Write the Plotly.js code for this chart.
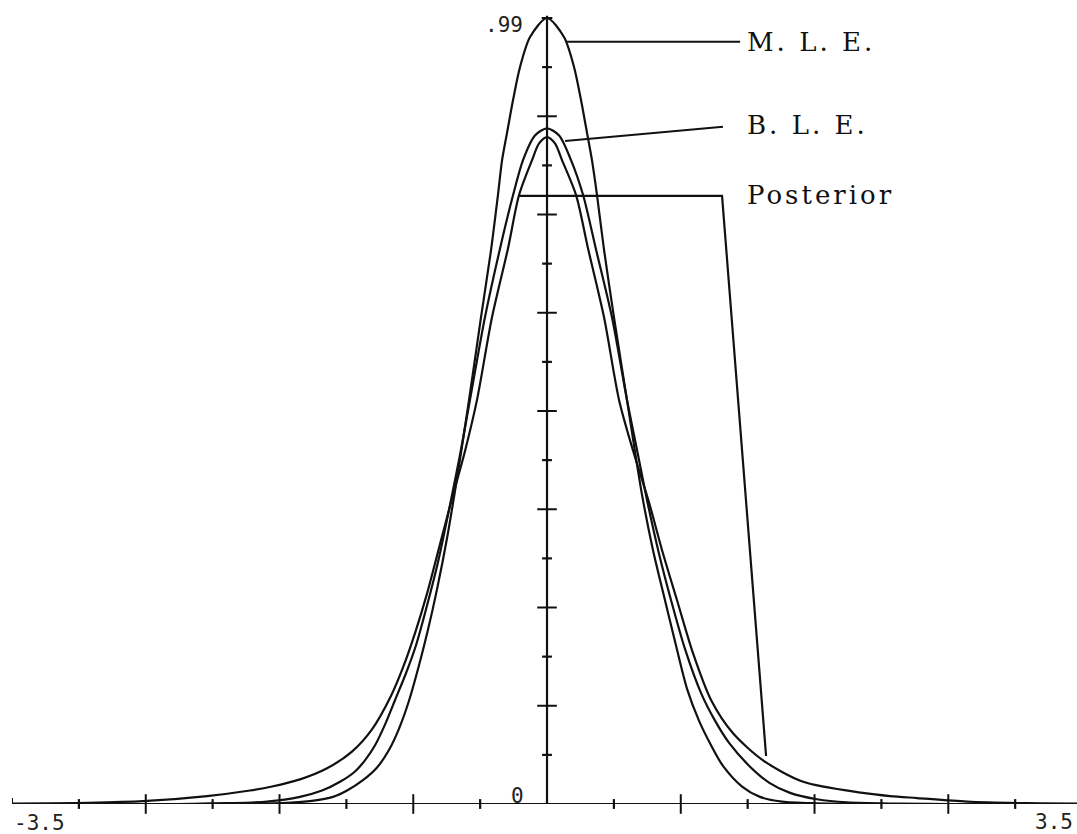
<!DOCTYPE html>
<html>
<head>
<meta charset="utf-8">
<script src="https://cdn.plot.ly/plotly-3.0.1.min.js"></script>
<style>
html,body{margin:0;padding:0;background:#ffffff;}
#chart{width:1077px;height:834px;}
</style>
</head>
<body>
<div id="chart"></div>
<script>
// ---- data ----
// M.L.E. curve
const mleX = [-3.5, -2.290, -1.963, -1.701, -1.537, -1.400, -1.308, -1.204, -1.112, -1.034, -0.968, -0.903, -0.837, -0.778, -0.720, -0.654, -0.589, -0.510, -0.432, -0.366, -0.321, -0.294, -0.262, -0.222, -0.177, -0.111, 0,
              0.111, 0.177, 0.222, 0.262, 0.294, 0.327, 0.373, 0.438, 0.523, 0.621, 0.693, 0.765, 0.837, 0.916, 0.994, 1.073, 1.151, 1.276, 1.393, 1.537, 1.766, 2.093, 3.467];
const mleY = [0, 0, 0.0003, 0.0015, 0.004, 0.009, 0.017, 0.030, 0.046, 0.068, 0.095, 0.130, 0.175, 0.220, 0.270, 0.335, 0.410, 0.509, 0.613, 0.698, 0.767, 0.811, 0.845, 0.887, 0.928, 0.966, 0.990,
              0.966, 0.928, 0.887, 0.845, 0.811, 0.767, 0.698, 0.613, 0.509, 0.390, 0.320, 0.262, 0.205, 0.145, 0.105, 0.074, 0.048, 0.022, 0.009, 0.003, 0.0008, 0, 0];
// B.L.E. curve
const bleX = [-3.5, -2.421, -2.093, -1.832, -1.616, -1.472, -1.354, -1.256, -1.191, -1.125, -1.060, -0.994, -0.922, -0.857, -0.785, -0.707, -0.628, -0.569, -0.504, -0.406, -0.307, -0.222, -0.157, -0.079, 0,
              0.079, 0.157, 0.236, 0.321, 0.425, 0.523, 0.595, 0.654, 0.733, 0.811, 0.903, 1.007, 1.099, 1.191, 1.328, 1.452, 1.590, 1.766, 1.963, 2.290, 2.617, 3.467];
const bleY = [0, 0, 0.001, 0.003, 0.009, 0.017, 0.028, 0.041, 0.055, 0.074, 0.100, 0.131, 0.165, 0.200, 0.250, 0.310, 0.383, 0.440, 0.509, 0.613, 0.700, 0.767, 0.811, 0.842, 0.851,
              0.842, 0.811, 0.767, 0.698, 0.613, 0.509, 0.440, 0.383, 0.315, 0.257, 0.195, 0.140, 0.105, 0.077, 0.047, 0.027, 0.014, 0.006, 0.002, 0.0005, 0, 0];
// Posterior curve
const postX = [-3.5, -3.009, -2.643, -2.224, -1.943, -1.799, -1.616, -1.439, -1.276, -1.145, -1.021, -0.942, -0.864, -0.785, -0.707, -0.628, -0.536, -0.458, -0.360, -0.255, -0.183, -0.098, -0.052, 0,
               0.052, 0.098, 0.190, 0.268, 0.373, 0.471, 0.563, 0.667, 0.752, 0.850, 0.955, 1.073, 1.217, 1.413, 1.675, 2.067, 2.244, 2.421, 2.748, 3.140, 3.467];
const postY = [0.0006, 0.0015, 0.0035, 0.010, 0.017, 0.022, 0.031, 0.045, 0.066, 0.094, 0.136, 0.172, 0.215, 0.265, 0.322, 0.380, 0.445, 0.509, 0.613, 0.700, 0.767, 0.811, 0.832, 0.840,
               0.832, 0.811, 0.767, 0.700, 0.613, 0.509, 0.445, 0.380, 0.320, 0.257, 0.190, 0.131, 0.089, 0.055, 0.028, 0.014, 0.010, 0.0075, 0.003, 0.001, 0.0005];

// axis ticks
const xMajorTicks = [-2.625, -1.75, -0.875, 0.875, 1.75, 2.625];
const xMinorTicks = [-3.0625, -2.1875, -1.3125, -0.4375, 0.4375, 1.3125, 2.1875, 3.0625];
const yMajorTicks = [0.12375, 0.2475, 0.37125, 0.495, 0.61875, 0.7425, 0.86625];
const yMinorTicks = [0.061875, 0.185625, 0.309375, 0.433125, 0.556875, 0.680625, 0.804375, 0.928125];
const xMin = -3.5, xMax = 3.5, yTop = 0.99;
const tickLabels = {xMin: "-3.5", xMax: "3.5", yTop: ".99", yZero: "0"};
const curveLabels = ["M. L. E.", "B. L. E.", "Posterior"];

const ink = '#111111';
const curveLine = {color: ink, width: 2.2, shape: 'spline', smoothing: 0.8};

const traces = [
  {x: mleX, y: mleY, mode: 'lines', line: curveLine, hoverinfo: 'skip', showlegend: false},
  {x: bleX, y: bleY, mode: 'lines', line: curveLine, hoverinfo: 'skip', showlegend: false},
  {x: postX, y: postY, mode: 'lines', line: curveLine, hoverinfo: 'skip', showlegend: false},
  {x: xMajorTicks, y: xMajorTicks.map(() => 0), mode: 'markers', cliponaxis: false, hoverinfo: 'skip', showlegend: false,
   marker: {symbol: 'line-ns', size: 14, color: ink, line: {color: ink, width: 2}}},
  {x: xMinorTicks, y: xMinorTicks.map(() => 0), mode: 'markers', cliponaxis: false, hoverinfo: 'skip', showlegend: false,
   marker: {symbol: 'line-ns', size: 7, color: ink, line: {color: ink, width: 2.2}}},
  {x: yMajorTicks.map(() => 0), y: yMajorTicks, mode: 'markers', cliponaxis: false, hoverinfo: 'skip', showlegend: false,
   marker: {symbol: 'line-ew', size: 14, color: ink, line: {color: ink, width: 2}}},
  {x: yMinorTicks.map(() => 0), y: yMinorTicks, mode: 'markers', cliponaxis: false, hoverinfo: 'skip', showlegend: false,
   marker: {symbol: 'line-ew', size: 7, color: ink, line: {color: ink, width: 2.2}}}
];

const L = (x0, y0, x1, y1, w) => ({type: 'line', xref: 'x', yref: 'y', x0, y0, x1, y1, line: {color: ink, width: w || 2}});

const shapes = [
  L(xMin, 0, 3.467, 0, 2),          // x axis
  L(0, 0, 0, yTop + 0.003, 2.2),     // y axis
  L(-0.035, yTop, 0.035, yTop, 2),   // cap at top
  L(xMin, -0.0113, xMin, 0.0076, 2), // left end bar
  // pointer lines
  L(0.124, 0.960, 1.263, 0.960, 2),
  L(0.118, 0.835, 1.151, 0.853, 2),
  {type: 'path', xref: 'x', yref: 'y', path: 'M -0.183,0.766 L 1.145,0.766 L 1.433,0.0605', line: {color: ink, width: 2.2}}
];

const numFont = {family: 'DejaVu Sans Mono', size: 21, color: '#222222'};
const lblFont = {family: 'DejaVu Serif', size: 26, color: ink};

const annotations = [
  {text: tickLabels.yTop, x: -0.145, y: 0.981, xref: 'x', yref: 'y', xanchor: 'right', yanchor: 'middle', showarrow: false, font: numFont},
  {text: tickLabels.yZero, x: -0.137, y: 0.0095, xref: 'x', yref: 'y', xanchor: 'right', yanchor: 'middle', showarrow: false, font: numFont},
  {text: tickLabels.xMin, x: 0, y: -0.0245, xref: 'paper', yref: 'paper', xanchor: 'left', yanchor: 'middle', showarrow: false, font: numFont},
  {text: tickLabels.xMax, x: 0.998, y: -0.023, xref: 'paper', yref: 'paper', xanchor: 'right', yanchor: 'middle', showarrow: false, font: numFont},
  {text: curveLabels[0], x: 1.295, y: 0.960, xref: 'x', yref: 'y', xanchor: 'left', yanchor: 'middle', align: 'left', showarrow: false, font: lblFont},
  {text: curveLabels[1], x: 1.295, y: 0.855, xref: 'x', yref: 'y', xanchor: 'left', yanchor: 'middle', align: 'left', showarrow: false, font: lblFont},
  {text: curveLabels[2], x: 1.295, y: 0.767, xref: 'x', yref: 'y', xanchor: 'left', yanchor: 'middle', align: 'left', showarrow: false, font: lblFont}
];

const layout = {
  width: 1077, height: 834,
  margin: {l: 12, r: 0, t: 10, b: 30, pad: 0},
  paper_bgcolor: '#ffffff', plot_bgcolor: '#ffffff',
  showlegend: false,
  xaxis: {range: [xMin, 3.467], visible: false, fixedrange: true},
  yaxis: {range: [0, 1.0001], visible: false, fixedrange: true},
  shapes: shapes,
  annotations: annotations
};

Plotly.newPlot('chart', traces, layout, {staticPlot: true, displayModeBar: false}).then(function () {
  document.querySelectorAll('.annotation-text').forEach(function (t) {
    if (curveLabels.indexOf(t.textContent) >= 0) t.style.letterSpacing = '3px';
  });
});
</script>
</body>
</html>
